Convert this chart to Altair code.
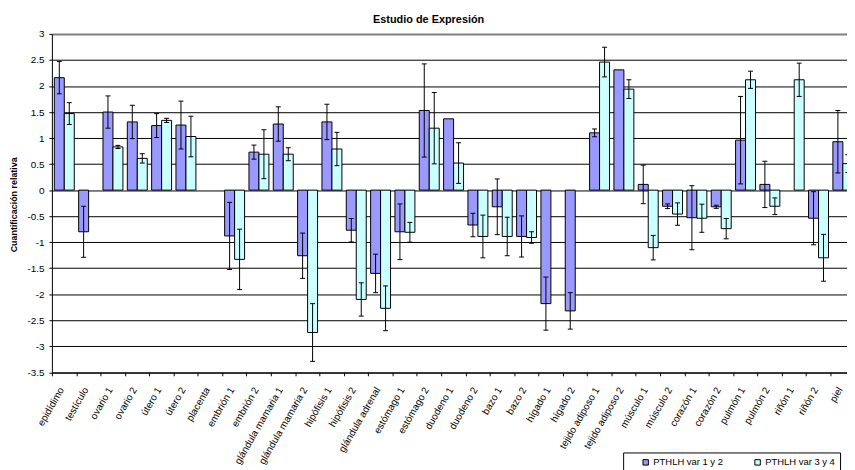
import json
import altair as alt
import pandas as pd

categories = ["epidídimo", "testículo", "ovario 1", "ovario 2", "útero 1", "útero 2",
              "placenta", "embrión 1", "embrión 2", "glándula mamaria 1",
              "glándula mamaria 2", "hipófisis 1", "hipófisis 2", "glándula adrenal",
              "estómago 1", "estómago 2", "duodeno 1", "duodeno 2", "bazo 1", "bazo 2",
              "hígado 1", "hígado 2", "tejido adiposo 1", "tejido adiposo 2",
              "músculo 1", "músculo 2", "corazón 1", "corazón 2", "pulmón 1",
              "pulmón 2", "riñón 1", "riñón 2", "piel"]

var12 = [2.16, -0.80, 1.50, 1.31, 1.24, 1.25, None, -0.88, 0.73, 1.27, -1.26, 1.31,
         -0.77, -1.60, -0.80, 1.53, 1.37, -0.67, -0.32, -0.89, -2.18, -2.32, 1.10,
         2.31, 0.11, -0.31, -0.53, -0.32, 0.96, 0.11, None, -0.54, 0.93]
err12 = [0.31, 0.49, 0.31, 0.32, 0.23, 0.46, None, 0.645, 0.135, 0.33, 0.435, 0.34,
         0.225, 0.37, 0.535, 0.895, None, 0.225, 0.535, 0.395, 0.51, 0.35, 0.075,
         None, 0.37, 0.045, 0.615, 0.03, 0.84, 0.445, None, 0.51, 0.60]
var34 = [1.47, None, 0.83, 0.61, 1.34, 1.03, None, -1.33, 0.69, 0.69, -2.735, 0.79,
         -2.10, -2.27, -0.81, 1.19, 0.52, -0.89, -0.89, -0.91, None, None, 2.46,
         1.94, -1.105, -0.46, -0.54, -0.74, 2.12, -0.31, 2.12, -1.30, 0.51]
err34 = [0.21, None, 0.03, 0.09, 0.04, 0.39, None, 0.58, 0.47, 0.125, 0.555, 0.32,
         0.32, 0.43, 0.19, 0.685, 0.39, 0.41, 0.37, 0.11, None, None, 0.285, 0.18,
         0.235, 0.215, 0.27, 0.195, 0.165, 0.16, 0.32, 0.45, 0.17]

series_names = ["PTHLH var 1 y 2", "PTHLH var 3 y 4"]
series_colors = ["#9999FF", "#CCFFFF"]
y_ticks = [-3.5, -3, -2.5, -2, -1.5, -1, -0.5, 0, 0.5, 1, 1.5, 2, 2.5, 3]

FONT = "Liberation Sans"
CAT_W = 24.5625
PLOT_W = 802.7
PLOT_H = 341.6
BAR_OFF = 0.1
BAR_W = 0.41

rows = []
for i, cat in enumerate(categories):
    for s, (vals, errs) in enumerate([(var12, err12), (var34, err34)]):
        v = vals[i]
        if v is None:
            continue
        e = errs[i]
        x0 = i + BAR_OFF + BAR_W * s
        rows.append(dict(cat=cat, series=series_names[s], value=v, x0=x0,
                         x1=x0 + BAR_W, xc=x0 + BAR_W / 2,
                         lo=(v - e) if e is not None else None,
                         hi=(v + e) if e is not None else None))
df = pd.DataFrame(rows)
err_df = df.dropna(subset=["lo"])

x_scale = alt.Scale(domain=[0, PLOT_W / CAT_W], nice=False, zero=False)
y_scale = alt.Scale(domain=[-3.5, 3], nice=False, zero=False)

label_expr = json.dumps(categories, ensure_ascii=False) + "[datum.value]"

x_axis = alt.Axis(values=list(range(len(categories))), labelExpr=label_expr,
                  labelAngle=-60, labelAlign="right", labelBaseline="middle",
                  labelOffset=9.5, labelPadding=12, tickSize=3.5, tickColor="black",
                  domainColor="black", labelColor="black", labelFontSize=10,
                  labelFont=FONT, grid=False, title=None, labelOverlap=False,
                  labelFlush=False, labelBound=False)

y_axis = alt.Axis(values=y_ticks, labelExpr="'' + datum.value", tickSize=3,
                  labelPadding=5, tickColor="black", domainColor="black",
                  labelColor="black", labelFontSize=10, labelFont=FONT, grid=True,
                  labelOverlap=False, labelFlush=False,
                  gridColor={"condition": {"test": "datum.value == 3", "value": "#808080"},
                             "value": "#000000"},
                  gridWidth={"condition": {"test": "datum.value == 3", "value": 2},
                             "value": 1},
                  title="Cuantificación relativa", titleFontSize=9, titleFont=FONT,
                  titleFontWeight="bold", titleColor="black", titleX=-39, titleY=172,
                  titleAngle=-90, titleAlign="center", titleBaseline="middle")

legend = alt.Legend(title=None, orient="none", legendX=576.7, legendY=422.5,
                    direction="horizontal", strokeColor="black", fillColor="white",
                    padding=5, symbolType="square", symbolSize=30,
                    symbolStrokeColor="black", symbolStrokeWidth=1, symbolOffset=13,
                    labelFontSize=9.5, labelFont=FONT, labelColor="black",
                    labelOffset=3, columnPadding=17)

bars = alt.Chart(df).mark_bar(stroke="black", strokeWidth=1).encode(
    x=alt.X("x0:Q", scale=x_scale, axis=x_axis),
    x2="x1:Q",
    y=alt.Y("value:Q", scale=y_scale, axis=y_axis),
    y2=alt.datum(0),
    color=alt.Color("series:N", scale=alt.Scale(domain=series_names, range=series_colors),
                    legend=legend),
)

rules = alt.Chart(err_df).mark_rule(color="black", strokeWidth=1).encode(
    x=alt.X("xc:Q", scale=x_scale, axis=x_axis),
    y=alt.Y("lo:Q", scale=y_scale, axis=y_axis),
    y2="hi:Q",
)

cap_hi = alt.Chart(err_df).mark_tick(orient="horizontal", size=5, thickness=1,
                                     color="black", opacity=1).encode(
    x=alt.X("xc:Q", scale=x_scale, axis=x_axis),
    y=alt.Y("hi:Q", scale=y_scale, axis=y_axis),
)
cap_lo = alt.Chart(err_df).mark_tick(orient="horizontal", size=5, thickness=1,
                                     color="black", opacity=1).encode(
    x=alt.X("xc:Q", scale=x_scale, axis=x_axis),
    y=alt.Y("lo:Q", scale=y_scale, axis=y_axis),
)

chart = alt.layer(bars, rules, cap_hi, cap_lo).properties(
    width=PLOT_W, height=PLOT_H,
    background="white",
    title=alt.TitleParams("Estudio de Expresión", fontSize=11, font=FONT,
                          fontWeight="bold", color="black", anchor="middle",
                          dx=-21, offset=4),
    autosize=alt.AutoSizeParams(type="none"),
    padding={"left": 44.3, "top": 24, "right": 0, "bottom": 96.4},
).configure_view(stroke=None)

chart.save("out.html", embed_options={"renderer": "svg", "actions": False})
